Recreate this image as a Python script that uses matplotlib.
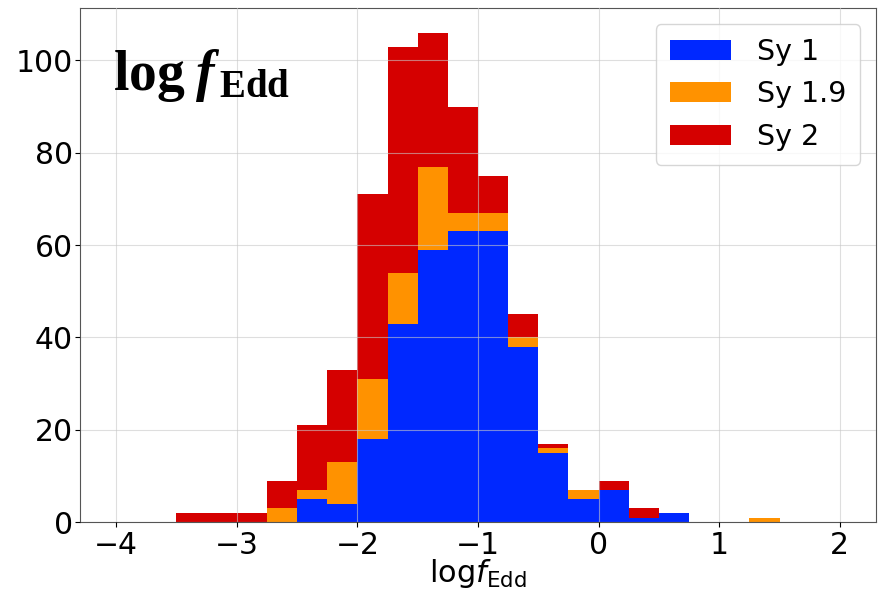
import matplotlib.pyplot as plt
import numpy as np

# bin edges of the Eddington-ratio histogram (width 0.25 dex)
edges = np.arange(-4.0, 2.0001, 0.25)
labels = ['Sy 1', 'Sy 1.9', 'Sy 2']
colors = ['#0028FF', '#FF9200', '#D50000']

# counts per bin, from -4.0 to 2.0
sy1 = [0, 0, 0, 0, 0, 0, 5, 4, 18, 43, 59, 63, 63, 38, 15, 5, 7, 1, 2, 0, 0, 0, 0, 0]
sy19 = [0, 0, 0, 0, 0, 3, 2, 9, 13, 11, 18, 4, 4, 2, 1, 2, 0, 0, 0, 0, 0, 1, 0, 0]
sy2 = [0, 0, 2, 2, 2, 6, 14, 20, 40, 49, 29, 23, 8, 5, 1, 0, 2, 2, 0, 0, 0, 0, 0, 0]

if __name__ == '__main__':
    plt.rcParams['mathtext.fontset'] = 'custom'
    plt.rcParams['mathtext.rm'] = 'Liberation Serif:bold'
    plt.rcParams['mathtext.it'] = 'Liberation Serif:bold:italic'

    fig = plt.figure(figsize=(8.84, 5.9), dpi=100, facecolor='w')
    ax = fig.add_axes([0.0905, 0.115, 0.9005, 0.871])

    centers = (edges[:-1] + edges[1:]) / 2
    ax.hist([centers] * 3, bins=edges, weights=[sy1, sy19, sy2], stacked=True,
            color=colors, label=labels, histtype='bar', rwidth=1.0, zorder=2)

    ax.set_xlim(-4.3, 2.3)
    ax.set_ylim(0, 111.3)
    ax.set_xticks([-4, -3, -2, -1, 0, 1, 2])
    ax.set_yticks([0, 20, 40, 60, 80, 100])
    ax.tick_params(labelsize=21.5, pad=3)
    ax.tick_params(axis='y', pad=1.5)
    ax.grid(color='#c8c8c8', alpha=0.6, linewidth=0.8, zorder=3)
    ax.set_axisbelow(False)
    for s in ax.spines.values():
        s.set_color('#555555')

    ax.set_xlabel(r'$\mathrm{log}f_{\mathrm{Edd}}$', fontsize=22,
                  math_fontfamily='dejavusans', labelpad=-2)
    # bold serif tag in the upper-left corner
    ax.text(0.042, 0.87, r'$\mathrm{log}\;f_{\,\mathrm{Edd}}$', transform=ax.transAxes,
            fontsize=40, va='center', ha='left')

    ax.legend(fontsize=20.5, loc='upper right', handlelength=2.15, borderpad=0.5,
              labelspacing=0.5, handletextpad=0.9, borderaxespad=0.55)

    plt.savefig('out.png', dpi=100)
